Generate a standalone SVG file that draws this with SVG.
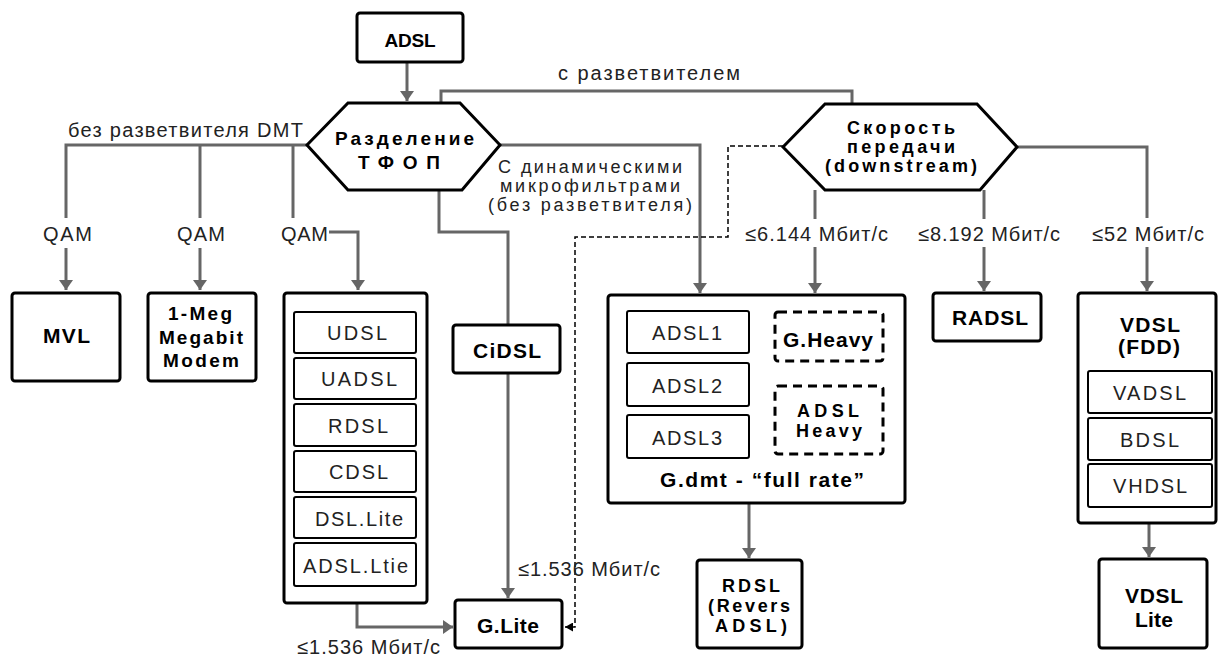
<svg xmlns="http://www.w3.org/2000/svg" width="1219" height="657" viewBox="0 0 1219 657">
<style>
.box{fill:#fff;stroke:#000;stroke-width:3}
.inner{fill:#fff;stroke:#000;stroke-width:2}
.dash{fill:#fff;stroke:#000;stroke-width:3;stroke-dasharray:9 6}
.conn{fill:none;stroke:#666;stroke-width:3}
.dconn{fill:none;stroke:#000;stroke-width:1.5;stroke-dasharray:5 3}
.b{font-family:"Liberation Sans",Arial,sans-serif;font-weight:bold;font-size:21px;text-anchor:middle;fill:#000}
.h{font-family:"Liberation Sans",Arial,sans-serif;font-weight:bold;font-size:19px;text-anchor:middle;fill:#000}
.n{font-family:"Liberation Sans",Arial,sans-serif;font-size:20px;text-anchor:middle;fill:#222}
.s18{font-size:18px}
.s19{font-size:19px}
</style>
<defs>
<marker id="ah" markerUnits="userSpaceOnUse" markerWidth="10" markerHeight="14" refX="10" refY="7" orient="auto" viewBox="0 0 10 14"><path d="M0,0 L10,7 L0,14 z" fill="#666"/></marker>
<marker id="ahs" markerUnits="userSpaceOnUse" markerWidth="8" markerHeight="9" refX="8" refY="4.5" orient="auto" viewBox="0 0 8 9"><path d="M0,0 L8,4.5 L0,9 z" fill="#000"/></marker>
</defs>

<g id="connectors">
<path class="conn" d="M407,62 V101" marker-end="url(#ah)"/>
<path class="conn" d="M307,145 H66 V218"/>
<path class="conn" d="M200,145 V218"/>
<path class="conn" d="M293,145 V218"/>
<path class="conn" d="M66,248 V290" marker-end="url(#ah)"/>
<path class="conn" d="M200,248 V290" marker-end="url(#ah)"/>
<path class="conn" d="M329,232 H358 V290" marker-end="url(#ah)"/>
<path class="conn" d="M439,190 V232 H508 V325"/>
<path class="conn" d="M508,373 V598" marker-end="url(#ah)"/>
<path class="conn" d="M500,145 H700 V293" marker-end="url(#ah)"/>
<path class="conn" d="M441,103 V91 H852 V104"/>
<path class="conn" d="M1017,147 H1147 V218"/>
<path class="conn" d="M1147,247 V291" marker-end="url(#ah)"/>
<path class="conn" d="M815,190 V219"/>
<path class="conn" d="M815,247 V293" marker-end="url(#ah)"/>
<path class="conn" d="M984,190 V219"/>
<path class="conn" d="M984,247 V291" marker-end="url(#ah)"/>
<path class="conn" d="M357,603 V627 H453" marker-end="url(#ah)"/>
<path class="conn" d="M749,503 V558" marker-end="url(#ah)"/>
<path class="conn" d="M1149,523 V557" marker-end="url(#ah)"/>
<path class="dconn" d="M783,146 H728 V237 H575 V627 H565" marker-end="url(#ahs)"/>
<text class="n" x="185.5" y="137" textLength="235" lengthAdjust="spacing">без разветвителя DMT</text>
<text class="n" x="67.5" y="241" textLength="49" lengthAdjust="spacing">QAM</text>
<text class="n" x="201" y="241" textLength="48" lengthAdjust="spacing">QAM</text>
<text class="n" x="304.5" y="241" textLength="47" lengthAdjust="spacing">QAM</text>
<text class="n" x="649" y="80" textLength="182" lengthAdjust="spacing">с разветвителем</text>
<text class="n s18" x="590" y="173" textLength="184" lengthAdjust="spacing">С динамическими</text>
<text class="n s18" x="590" y="192" textLength="180" lengthAdjust="spacing">микрофильтрами</text>
<text class="n s18" x="590" y="211" textLength="204" lengthAdjust="spacing">(без разветвителя)</text>
<text class="n" x="816.5" y="241" textLength="143" lengthAdjust="spacing">≤6.144 Мбит/с</text>
<text class="n" x="989" y="241" textLength="142" lengthAdjust="spacing">≤8.192 Мбит/с</text>
<text class="n" x="1148" y="241" textLength="112" lengthAdjust="spacing">≤52 Мбит/с</text>
<text class="n" x="589" y="576" textLength="142" lengthAdjust="spacing">≤1.536 Мбит/с</text>
<text class="n" x="368.5" y="654" textLength="143" lengthAdjust="spacing">≤1.536 Мбит/с</text>
</g>

<g id="adsl">
<rect class="box" x="357" y="13" width="106" height="49" rx="3"/>
<text class="b s19" x="410" y="47" textLength="51" lengthAdjust="spacing">ADSL</text>
</g>

<g id="split">
<polygon class="box" points="307,145 348,103 460,103 500,145 462,190 348,190"/>
<text class="h" x="404.5" y="145" textLength="139" lengthAdjust="spacing">Разделение</text>
<text class="h" x="399" y="169" textLength="82" lengthAdjust="spacing">ТФОП</text>
</g>

<g id="speed">
<polygon class="box" points="783,147 825,104 977,104 1017,147 980,190 825,190"/>
<text class="h s18" x="901" y="134" textLength="108" lengthAdjust="spacing">Скорость</text>
<text class="h s18" x="901" y="153" textLength="108" lengthAdjust="spacing">передачи</text>
<text class="h s18" x="901" y="172" textLength="152" lengthAdjust="spacing">(downstream)</text>
</g>

<g id="mvl">
<rect class="box" x="12" y="293" width="108" height="88" rx="3"/>
<text class="b" x="66.5" y="343" textLength="47" lengthAdjust="spacing">MVL</text>
</g>

<g id="megabit">
<rect class="box" x="148" y="293" width="108" height="88" rx="3"/>
<text class="b s19" x="200" y="320" textLength="64" lengthAdjust="spacing">1-Meg</text>
<text class="b s19" x="201" y="344" textLength="84" lengthAdjust="spacing">Megabit</text>
<text class="b s19" x="201" y="367" textLength="76" lengthAdjust="spacing">Modem</text>
</g>

<g id="qam-family">
<rect class="box" x="284" y="293" width="143" height="310" rx="3"/>
<rect class="inner" x="294" y="312" width="122" height="41" rx="2"/>
<text class="n" x="357" y="340" textLength="60" lengthAdjust="spacing">UDSL</text>
<rect class="inner" x="294" y="358" width="122" height="41" rx="2"/>
<text class="n" x="359" y="386" textLength="76" lengthAdjust="spacing">UADSL</text>
<rect class="inner" x="294" y="404" width="122" height="42" rx="2"/>
<text class="n" x="358" y="433" textLength="60" lengthAdjust="spacing">RDSL</text>
<rect class="inner" x="294" y="451" width="122" height="41" rx="2"/>
<text class="n" x="358.5" y="479" textLength="59" lengthAdjust="spacing">CDSL</text>
<rect class="inner" x="294" y="497" width="122" height="41" rx="2"/>
<text class="n" x="359" y="526" textLength="88" lengthAdjust="spacing">DSL.Lite</text>
<rect class="inner" x="294" y="543" width="122" height="43" rx="2"/>
<text class="n" x="355.5" y="573" textLength="105" lengthAdjust="spacing">ADSL.Ltie</text>
</g>

<g id="cidsl">
<rect class="box" x="453" y="325" width="107" height="48" rx="3"/>
<text class="b" x="507" y="358" textLength="68" lengthAdjust="spacing">CiDSL</text>
</g>

<g id="glite">
<rect class="box" x="455" y="600" width="107" height="48" rx="3"/>
<text class="b" x="508" y="633" textLength="62" lengthAdjust="spacing">G.Lite</text>
</g>

<g id="gdmt">
<rect class="box" x="608" y="295" width="297" height="208" rx="3"/>
<rect class="inner" x="627" y="311" width="122" height="42" rx="2"/>
<text class="n" x="687" y="340" textLength="70" lengthAdjust="spacing">ADSL1</text>
<rect class="inner" x="627" y="363" width="122" height="43" rx="2"/>
<text class="n" x="687" y="393" textLength="70" lengthAdjust="spacing">ADSL2</text>
<rect class="inner" x="627" y="415" width="122" height="43" rx="2"/>
<text class="n" x="687" y="445" textLength="70" lengthAdjust="spacing">ADSL3</text>
<rect class="dash" x="775" y="312" width="108" height="49" rx="3"/>
<text class="b" x="828" y="347" textLength="90" lengthAdjust="spacing">G.Heavy</text>
<rect class="dash" x="775" y="386" width="108" height="68" rx="3"/>
<text class="b s18" x="828" y="417" textLength="62" lengthAdjust="spacing">ADSL</text>
<text class="b s18" x="829" y="437" textLength="66" lengthAdjust="spacing">Heavy</text>
<text class="b" x="762" y="487" textLength="204" lengthAdjust="spacing">G.dmt - “full rate”</text>
</g>

<g id="rdsl">
<rect class="box" x="697" y="560" width="105" height="88" rx="3"/>
<text class="b s18" x="751" y="592" textLength="58" lengthAdjust="spacing">RDSL</text>
<text class="b s18" x="749" y="612" textLength="82" lengthAdjust="spacing">(Revers</text>
<text class="b s18" x="751" y="632" textLength="72" lengthAdjust="spacing">ADSL)</text>
</g>

<g id="radsl">
<rect class="box" x="933" y="293" width="108" height="48" rx="3"/>
<text class="b" x="990" y="325" textLength="76" lengthAdjust="spacing">RADSL</text>
</g>

<g id="vdsl">
<rect class="box" x="1078" y="293" width="138" height="230" rx="3"/>
<text class="b" x="1150" y="332" textLength="60" lengthAdjust="spacing">VDSL</text>
<text class="b" x="1149" y="354" textLength="62" lengthAdjust="spacing">(FDD)</text>
<rect class="inner" x="1088" y="371" width="124" height="42" rx="2"/>
<text class="n" x="1149.5" y="400" textLength="73" lengthAdjust="spacing">VADSL</text>
<rect class="inner" x="1088" y="418" width="124" height="42" rx="2"/>
<text class="n" x="1149.5" y="447" textLength="59" lengthAdjust="spacing">BDSL</text>
<rect class="inner" x="1088" y="464" width="124" height="43" rx="2"/>
<text class="n" x="1150" y="493" textLength="74" lengthAdjust="spacing">VHDSL</text>
</g>

<g id="vdsl-lite">
<rect class="box" x="1099" y="559" width="108" height="89" rx="3"/>
<text class="b" x="1154" y="603" textLength="58" lengthAdjust="spacing">VDSL</text>
<text class="b" x="1154" y="627" textLength="38" lengthAdjust="spacing">Lite</text>
</g>
</svg>
